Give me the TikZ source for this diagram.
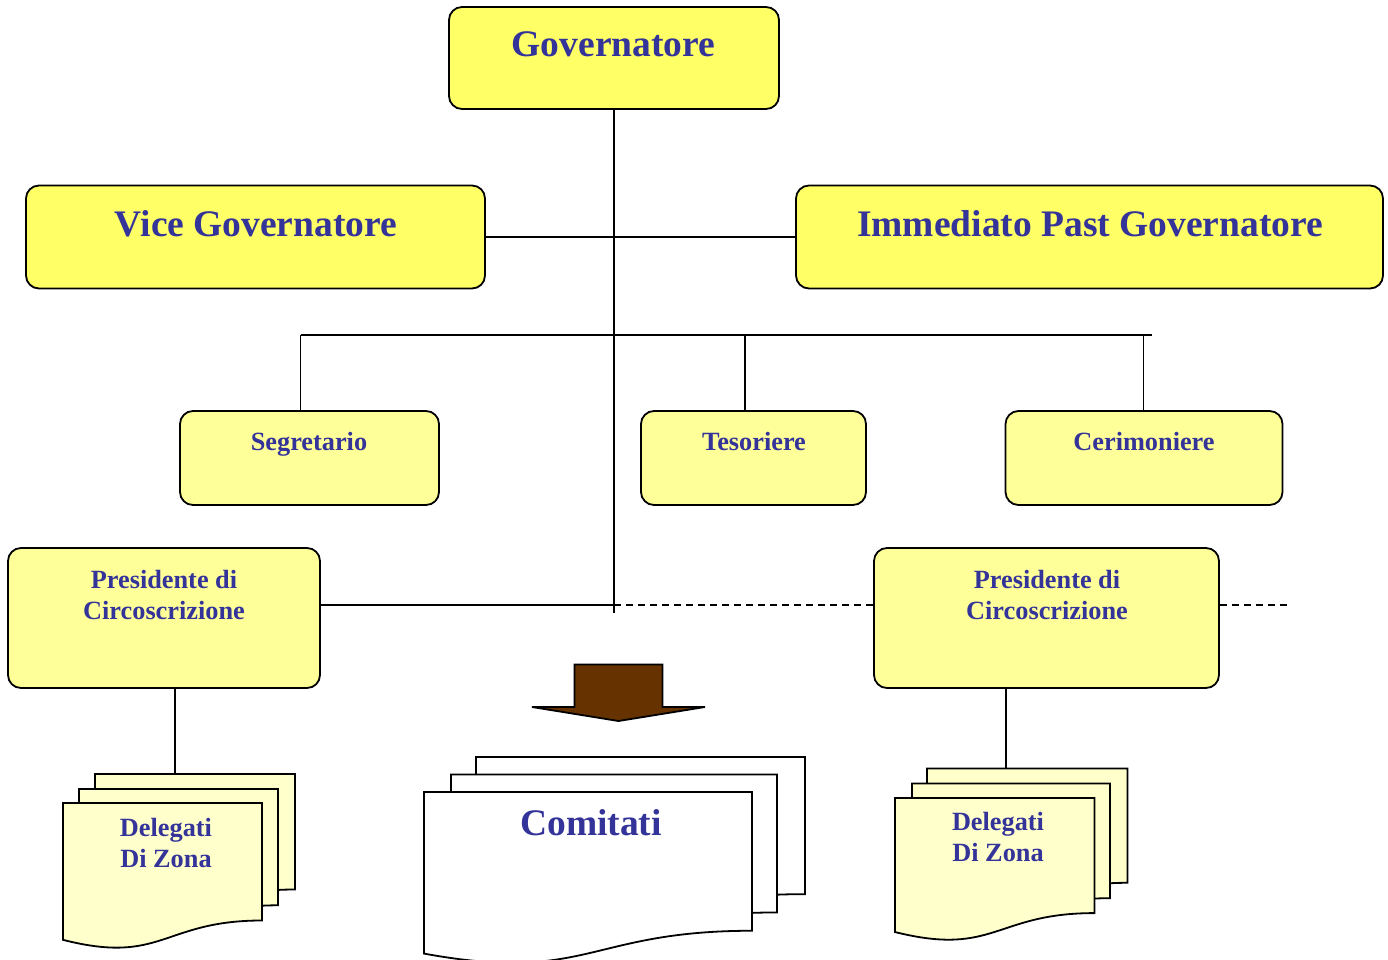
\documentclass[tikz,border=0pt]{standalone}
\usepackage{fontspec}
\setmainfont{Liberation Serif}
\definecolor{txtblue}{HTML}{333399}
\definecolor{yelA}{HTML}{FFFF66}
\definecolor{yelB}{HTML}{FFFF99}
\definecolor{yelC}{HTML}{FFFFCC}
\definecolor{arrbrown}{HTML}{663300}
\newcommand{\docsheet}[5]{%
  \filldraw[docline,fill=#5] (#1,#2) -- (#3,#2) -- (#3,{#2+0.802*#4})
    .. controls ({(#1+#3)/2},{#2+0.802*#4}) and ({(#1+#3)/2},{#2+1.1075*#4}) ..
    (#1,{#2+0.934*#4}) -- cycle;}
\begin{document}
\begin{tikzpicture}[x=1pt,y=-1pt,
  box/.style={draw=black,line width=1.8pt,rounded corners=13pt,inner sep=0pt},
  boxA/.style={box,fill=yelA},
  boxB/.style={box,fill=yelB},
  conn/.style={draw=black,line width=1.8pt},
  dashconn/.style={draw=black,line width=1.8pt,dash pattern=on 7pt off 5pt},
  docline/.style={draw=black,line width=1.8pt,line join=miter},
  bigtxt/.style={text=txtblue,font=\fontsize{37.5}{40}\selectfont\bfseries,anchor=base,inner sep=0pt},
  smalltxt/.style={text=txtblue,font=\fontsize{26.3}{31}\selectfont\bfseries,anchor=base,inner sep=0pt,align=center},
]
\useasboundingbox (0,0) rectangle (1388,960);

% main boxes
\node[boxA,minimum width=330,minimum height=102] (gov) at (614,58) {};
\node[boxA,minimum width=459,minimum height=103] (vice) at (255.5,237) {};
\node[boxA,minimum width=587,minimum height=103] (ipg) at (1089.5,237) {};
\node[boxB,minimum width=259,minimum height=94] (seg) at (309.5,458) {};
\node[boxB,minimum width=225,minimum height=94] (tes) at (753.5,458) {};
\node[boxB,minimum width=277,minimum height=94] (cer) at (1144,458) {};
\node[boxB,minimum width=312,minimum height=140] (presL) at (164,618) {};
\node[boxB,minimum width=345,minimum height=140] (presR) at (1046.5,618) {};

% texts
\node[bigtxt] (govT) at (613.5,57) {Governatore};
\node[bigtxt] (viceT) at (256,236) {Vice Governatore};
\node[bigtxt] (ipgT) at (1090,236) {Immediato Past Governatore};
\node[smalltxt] (segT) at (309,450) {Segretario};
\node[smalltxt] (tesT) at (754,450) {Tesoriere};
\node[smalltxt] (cerT) at (1144,450) {Cerimoniere};
\node[smalltxt] (presLT1) at (164,588) {Presidente di};
\node[smalltxt] (presLT2) at (164,619) {Circoscrizione};
\node[smalltxt] (presRT1) at (1047,588) {Presidente di};
\node[smalltxt] (presRT2) at (1047,619) {Circoscrizione};

% connector coordinates
\coordinate (vEnd) at (614,613);
\coordinate (bL) at (300.5,335);
\coordinate (bR) at (1152,335);
\coordinate (bT) at (745,335);
\coordinate (bC) at (1143.5,335);
\coordinate (jL) at (614,605);
\coordinate (jEnd) at (1290,605);
\coordinate (delL) at (175,774);
\coordinate (delR) at (1006,768);

% connectors
\draw[conn] (gov.south) -- (vEnd);
\draw[conn] (vice.east) -- (ipg.west);
\draw[conn] (bL) -- (bR);
\draw[conn] (bL) -- (bL |- seg.north);
\draw[conn] (bT) -- (bT |- tes.north);
\draw[conn] (bC) -- (bC |- cer.north);
\draw[conn] (presL.east |- jL) -- (jL);
\draw[dashconn] (jL) -- (presR.west |- jL);
\draw[dashconn] (presR.east |- jL) -- (jEnd);
\draw[conn] (presL.south -| delL) -- (delL);
\draw[conn] (presR.south -| delR) -- (delR);

% block arrow
\filldraw[draw=black,line width=1.8pt,fill=arrbrown,line join=miter]
  (574.5,664.5) -- (662.5,664.5) -- (662.5,707) -- (705,707) -- (618.5,721)
  -- (532,707) -- (574.5,707) -- cycle;

% left Delegati stack
\docsheet{95}{774}{295}{144}{yelC}
\docsheet{79}{789}{278}{145}{yelC}
\docsheet{63}{803}{262}{146.5}{yelC}
\node[smalltxt] (delLT1) at (166,836) {Delegati};
\node[smalltxt] (delLT2) at (166,867) {Di Zona};

% Comitati stack
\docsheet{476}{757}{805}{171}{white}
\docsheet{451}{774.5}{777}{172}{white}
\docsheet{424}{792}{752}{173}{white}
\node[bigtxt] (comT) at (591,835) {Comitati};

% right Delegati stack
\docsheet{927}{768.5}{1127.5}{142.5}{yelC}
\docsheet{912}{783.5}{1110}{143}{yelC}
\docsheet{895}{798}{1094.5}{143.5}{yelC}
\node[smalltxt] (delRT1) at (998,830) {Delegati};
\node[smalltxt] (delRT2) at (998,861) {Di Zona};
\end{tikzpicture}
\end{document}
